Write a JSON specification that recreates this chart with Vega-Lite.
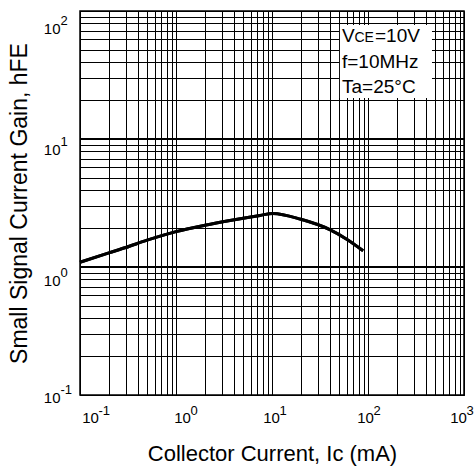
{
  "$schema": "https://vega.github.io/schema/vega-lite/v6.json",
  "width": 384,
  "height": 384,
  "autosize": {"type": "none"},
  "padding": {"left": 80, "top": 11, "right": 11, "bottom": 76},
  "background": "white",
  "view": {"stroke": "black", "strokeWidth": 1.5},
  "config": {
    "font": "Liberation Sans",
    "axis": {
      "gridColor": "black",
      "gridOpacity": 1,
      "gridWidth": 1,
      "domainColor": "black",
      "ticks": false,
      "labelColor": "black",
      "titleColor": "black",
      "labelFont": "Liberation Sans",
      "titleFont": "Liberation Sans",
      "titleFontWeight": "normal",
      "labelFontSize": 15,
      "titleFontSize": 22,
      "labelOverlap": false,
      "labelFlush": false
    }
  },
  "datasets": {
    "curve": [
      {"Ic": 0.1, "hFE": 1.09},
      {"Ic": 0.2, "hFE": 1.29},
      {"Ic": 0.3, "hFE": 1.42},
      {"Ic": 0.5, "hFE": 1.62},
      {"Ic": 1.0, "hFE": 1.89},
      {"Ic": 2.0, "hFE": 2.12},
      {"Ic": 3.65, "hFE": 2.31},
      {"Ic": 7.5, "hFE": 2.53},
      {"Ic": 10.2, "hFE": 2.62},
      {"Ic": 20, "hFE": 2.36},
      {"Ic": 40, "hFE": 1.96},
      {"Ic": 60, "hFE": 1.65},
      {"Ic": 89, "hFE": 1.34}
    ],
    "thick": [{"hFE": 1}, {"hFE": 10}],
    "box": [{"Ic": 51, "Ic2": 464, "hFE": 77.8, "hFE2": 20.9}],
    "notes": [
      {"Ic": 53.6, "hFE": 57.3, "part": "V"},
      {"Ic": 53.6, "hFE": 57.3, "part": "CE"},
      {"Ic": 53.6, "hFE": 57.3, "part": "=10V"},
      {"Ic": 53.6, "hFE": 35.9, "part": "f=10MHz"},
      {"Ic": 53.6, "hFE": 22.9, "part": "Ta=25°C"}
    ],
    "xexp": [
      {"Ic": 0.1, "hFE": 0.1, "e": "-1"},
      {"Ic": 1, "hFE": 0.1, "e": "0"},
      {"Ic": 10, "hFE": 0.1, "e": "1"},
      {"Ic": 100, "hFE": 0.1, "e": "2"},
      {"Ic": 1000, "hFE": 0.1, "e": "3"}
    ],
    "yexp": [
      {"Ic": 0.1, "hFE": 0.1, "e": "-1"},
      {"Ic": 0.1, "hFE": 1, "e": "0"},
      {"Ic": 0.1, "hFE": 10, "e": "1"},
      {"Ic": 0.1, "hFE": 100, "e": "2"}
    ]
  },
  "layer": [
    {
      "data": {"name": "curve"},
      "mark": {"type": "line", "color": "black", "strokeWidth": 3, "interpolate": "monotone"},
      "encoding": {
        "x": {
          "field": "Ic",
          "type": "quantitative",
          "scale": {"type": "log", "domain": [0.1, 1000], "nice": false},
          "axis": {
            "title": "Collector Current, Ic (mA)",
            "values": [0.1,0.2,0.3,0.4,0.5,0.6,0.7,0.8,0.9,1,2,3,4,5,6,7,8,9,10,20,30,40,50,60,70,80,90,100,200,300,400,500,600,700,800,900,1000],
            "labelExpr": "(datum.value == 0.1 || datum.value == 1 || datum.value == 10 || datum.value == 100 || datum.value == 1000) ? '10' : ''",
            "labelPadding": 15,
            "labelOffset": {"condition": [{"test": "datum.value == 0.1", "value": 10}, {"test": "datum.value == 1", "value": 6}, {"test": "datum.value == 10", "value": -1}, {"test": "datum.value == 100", "value": -3}], "value": -6},
            "titlePadding": 18,
            "grid": true
          }
        },
        "y": {
          "field": "hFE",
          "type": "quantitative",
          "scale": {"type": "log", "domain": [0.1, 100], "nice": false},
          "axis": {
            "title": "Small Signal Current Gain, hFE",
            "titleFontSize": 23,
            "values": [0.1,0.2,0.3,0.4,0.5,0.6,0.7,0.8,0.9,1,2,3,4,5,6,7,8,9,10,20,30,40,50,60,70,80,90,100],
            "labelExpr": "(datum.value == 0.1 || datum.value == 1 || datum.value == 10 || datum.value == 100) ? '10' : ''",
            "labelPadding": 20,
            "labelBaseline": "middle",
            "labelOffset": {"condition": [{"test": "datum.value == 100", "value": 17}, {"test": "datum.value == 10", "value": 10}, {"test": "datum.value == 1", "value": 13}], "value": 2},
            "titlePadding": 12,
            "grid": true
          }
        }
      }
    },
    {
      "data": {"name": "thick"},
      "mark": {"type": "rule", "color": "black", "strokeWidth": 2.2},
      "encoding": {
        "y": {"field": "hFE", "type": "quantitative"}
      }
    },
    {
      "data": {"name": "curve"},
      "mark": {"type": "line", "color": "black", "strokeWidth": 3, "interpolate": "monotone"},
      "encoding": {
        "x": {"field": "Ic", "type": "quantitative"},
        "y": {"field": "hFE", "type": "quantitative"}
      }
    },
    {
      "data": {"name": "box"},
      "mark": {"type": "rect", "color": "white", "opacity": 1},
      "encoding": {
        "x": {"field": "Ic", "type": "quantitative"},
        "x2": {"field": "Ic2"},
        "y": {"field": "hFE", "type": "quantitative"},
        "y2": {"field": "hFE2"}
      }
    },
    {
      "data": {"name": "notes"},
      "transform": [{"filter": "datum.part == 'V' || datum.part == 'f=10MHz' || datum.part == 'Ta=25°C'"}],
      "mark": {"type": "text", "align": "left", "baseline": "alphabetic", "fontSize": 19, "color": "black"},
      "encoding": {
        "x": {"field": "Ic", "type": "quantitative"},
        "y": {"field": "hFE", "type": "quantitative"},
        "text": {"field": "part"}
      }
    },
    {
      "data": {"name": "notes"},
      "transform": [{"filter": "datum.part == 'CE'"}],
      "mark": {"type": "text", "align": "left", "baseline": "alphabetic", "fontSize": 14, "dx": 12.5, "color": "black"},
      "encoding": {
        "x": {"field": "Ic", "type": "quantitative"},
        "y": {"field": "hFE", "type": "quantitative"},
        "text": {"field": "part"}
      }
    },
    {
      "data": {"name": "notes"},
      "transform": [{"filter": "datum.part == '=10V'"}],
      "mark": {"type": "text", "align": "left", "baseline": "alphabetic", "fontSize": 19, "dx": 33, "color": "black"},
      "encoding": {
        "x": {"field": "Ic", "type": "quantitative"},
        "y": {"field": "hFE", "type": "quantitative"},
        "text": {"field": "part"}
      }
    },
    {
      "data": {"name": "xexp"},
      "mark": {"type": "text", "align": "left", "baseline": "alphabetic", "fontSize": 13, "color": "black", "dy": 20,
               "dx": {"expr": "datum.Ic == 0.1 ? 18.5 : datum.Ic == 1 ? 14.5 : datum.Ic == 10 ? 7.5 : datum.Ic == 100 ? 5.5 : 2.5"}},
      "encoding": {
        "x": {"field": "Ic", "type": "quantitative"},
        "y": {"field": "hFE", "type": "quantitative"},
        "text": {"field": "e"}
      }
    },
    {
      "data": {"name": "yexp"},
      "mark": {"type": "text", "align": "left", "baseline": "alphabetic", "fontSize": 13, "color": "black", "dx": -19.5,
               "dy": {"expr": "datum.hFE == 100 ? 14 : datum.hFE == 10 ? 7 : datum.hFE == 1 ? 10 : -1"}},
      "encoding": {
        "x": {"field": "Ic", "type": "quantitative"},
        "y": {"field": "hFE", "type": "quantitative"},
        "text": {"field": "e"}
      }
    }
  ]
}
